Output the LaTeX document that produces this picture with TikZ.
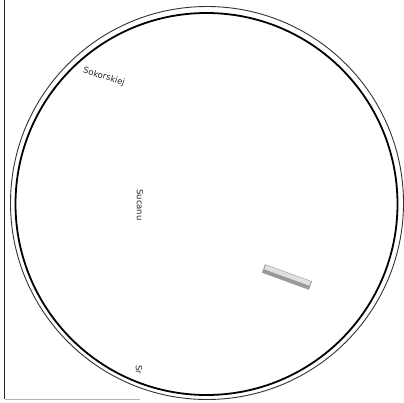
\documentclass[tikz,border=0pt]{standalone}
\usepackage{fontspec}
\setmainfont{DejaVu Sans}
\begin{document}
\begin{tikzpicture}[x=1pt,y=-1pt,
  lbl/.style={font=\fontsize{8.5}{9}\selectfont, inner sep=0pt, text=black!85}]
\useasboundingbox (0,0) rectangle (404,402);
\fill[white] (0,0) rectangle (404,402);
% left vertical rule and faint bottom rule
\draw[line width=1.2pt, black!85] (4.5,0) -- (4.5,399);
\draw[line width=0.4pt, black!30] (4.5,399) -- (140,399);
% rim: outer thin circle, inner thick circle
\draw[line width=0.9pt, black!80] (207,203) circle (196.5);
\draw[line width=1.8pt, black] (206.5,204) circle (191);
% labels
\node[lbl, rotate=-17] (sok) at (104,77) {Sokorskiej};
\node[lbl, rotate=-90] (suc) at (140,205) {Sucanu};
\node[lbl, rotate=-90] (sr) at (139,370) {Sr};
% grey plate
\fill[black!40, rotate around={-20:(287,277)}] (262,272.5) rectangle (312,281.5);
\fill[black!12, rotate around={-20:(287,277)}] (263,273) rectangle (311,277.5);
\end{tikzpicture}
\end{document}
